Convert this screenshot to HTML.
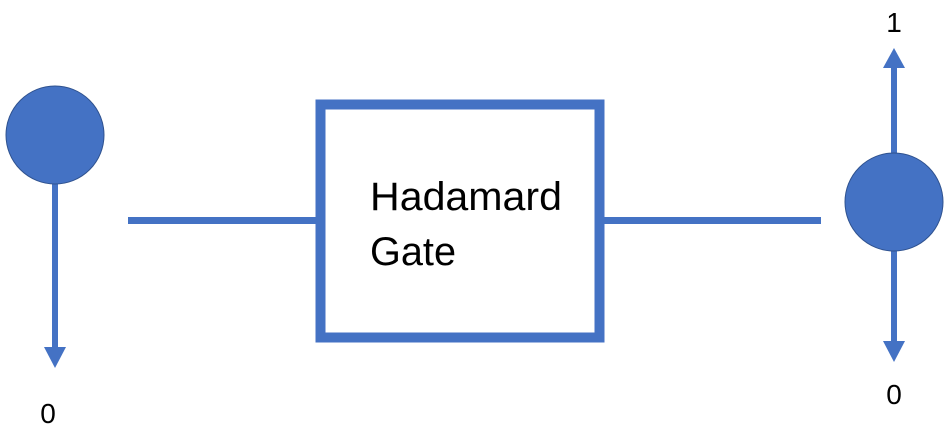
<!DOCTYPE html>
<html><head><meta charset="utf-8"><style>
html,body{margin:0;padding:0;background:#fff;width:948px;height:438px;overflow:hidden}
</style></head><body>
<svg width="948" height="438" viewBox="0 0 948 438" xmlns="http://www.w3.org/2000/svg">
<g fill="#4472C4" stroke="none">
  <rect x="52" y="180" width="6" height="170"/>
  <polygon points="44,347 66,347 55,368"/>
  <circle cx="55" cy="135" r="49" stroke="#2F528F" stroke-width="1"/>
  <rect x="891" y="64" width="6" height="100"/>
  <polygon points="883,68 905,68 894,48"/>
  <rect x="891" y="240" width="6" height="104"/>
  <polygon points="883,341 905,341 894,362"/>
  <circle cx="894" cy="202" r="49" stroke="#2F528F" stroke-width="1"/>
  <rect x="128" y="217" width="192" height="7"/>
  <rect x="600" y="217" width="221" height="7"/>
</g>
<rect x="320.5" y="104.5" width="279" height="233" fill="#fff" stroke="#4472C4" stroke-width="10"/>
<g font-family="Liberation Sans, sans-serif" fill="#000">
  <text x="370" y="210" font-size="40" textLength="192" lengthAdjust="spacingAndGlyphs">Hadamard</text>
  <text x="370" y="265" font-size="40" textLength="86" lengthAdjust="spacingAndGlyphs">Gate</text>
  <text x="48" y="423" font-size="28" text-anchor="middle">0</text>
  <text x="894" y="32" font-size="28" text-anchor="middle">1</text>
  <text x="894" y="404" font-size="28" text-anchor="middle">0</text>
</g>
</svg>
</body></html>
